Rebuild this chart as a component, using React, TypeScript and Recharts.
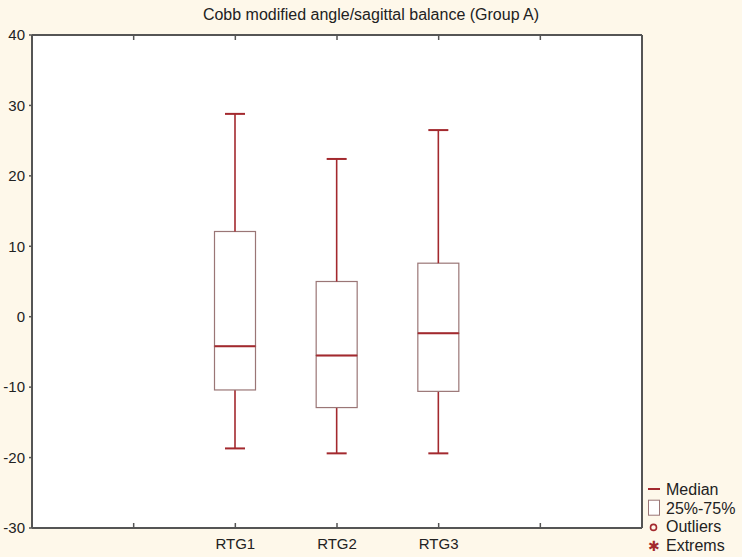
import React from "react"
import { ComposedChart, Bar, XAxis, YAxis, CartesianGrid } from "recharts"

// box plot values
const categories = ["RTG1", "RTG2", "RTG3"]
const positions = [2, 3, 4]
const whiskerMin = [-18.7, -19.4, -19.4]
const q1 = [-10.4, -12.9, -10.6]
const median = [-4.2, -5.5, -2.35]
const q3 = [12.1, 5.0, 7.6]
const whiskerMax = [28.8, 22.4, 26.5]

const yTicks = [-30, -20, -10, 0, 10, 20, 30, 40]
const xTicks = [0, 1, 2, 3, 4, 5, 6]

const legendItems = ["Median", "25%-75%", "Outliers", "Extrems"]

const FONT = "'Liberation Sans', Arial, sans-serif"
const RED = "#a3292e"
const BOX = "#9a7676"
const AXIS = "#555"

// stacked segments: invisible base, lower whisker, lower box, upper box, upper whisker
const data = categories.map((name, i) => ({
  name,
  pos: positions[i],
  base: whiskerMin[i],
  lowWhisker: q1[i] - whiskerMin[i],
  lowBox: median[i] - q1[i],
  highBox: q3[i] - median[i],
  highWhisker: whiskerMax[i] - q3[i],
}))

const CAP = 20

const Empty = () => <g />

const LowWhisker = (props: any) => {
  const { x, y, width, height } = props
  const cx = x + width / 2
  const bottom = y + height
  return (
    <g>
      <line x1={cx} x2={cx} y1={y} y2={bottom} stroke={RED} strokeWidth={1.6} />
      <line x1={cx - CAP / 2} x2={cx + CAP / 2} y1={bottom} y2={bottom} stroke={RED} strokeWidth={2} />
    </g>
  )
}

const HighWhisker = (props: any) => {
  const { x, y, width, height } = props
  const cx = x + width / 2
  return (
    <g>
      <line x1={cx} x2={cx} y1={y} y2={y + height} stroke={RED} strokeWidth={1.6} />
      <line x1={cx - CAP / 2} x2={cx + CAP / 2} y1={y} y2={y} stroke={RED} strokeWidth={2} />
    </g>
  )
}

const LowBox = (props: any) => {
  const { x, y, width, height } = props
  return <rect x={x} y={y} width={width} height={height} fill="#fff" stroke={BOX} strokeWidth={1.2} />
}

const HighBox = (props: any) => {
  const { x, y, width, height } = props
  const bottom = y + height
  return (
    <g>
      <rect x={x} y={y} width={width} height={height} fill="#fff" stroke={BOX} strokeWidth={1.2} />
      <line x1={x} x2={x + width} y1={bottom} y2={bottom} stroke={RED} strokeWidth={2} />
    </g>
  )
}

const labelFor = (v: number) => {
  const idx = positions.indexOf(v)
  return idx >= 0 ? categories[idx] : ""
}

const BottomTick = (props: any) => {
  const { x, y, payload } = props
  const label = labelFor(payload.value)
  return (
    <g>
      <line x1={x} x2={x} y1={y} y2={y - 5} stroke={AXIS} strokeWidth={1.5} />
      {label && (
        <text x={x} y={y + 21} textAnchor="middle" fontSize={15} fill="#222" fontFamily={FONT}>
          {label}
        </text>
      )}
    </g>
  )
}

const TopTick = (props: any) => {
  const { x, y } = props
  return <line x1={x} x2={x} y1={y} y2={y + 5} stroke={AXIS} strokeWidth={1.5} />
}

const RightTick = (props: any) => {
  const { x, y } = props
  return <line x1={x} x2={x - 3} y1={y} y2={y} stroke={AXIS} strokeWidth={1.5} />
}

export default function App() {
  return (
    <div style={{ position: "absolute", left: 0, top: 0, width: 742, height: 557, background: "#fef8ea", fontFamily: FONT }}>
      <div
        style={{
          position: "absolute",
          top: 6,
          left: 0,
          width: 742,
          textAlign: "center",
          fontSize: 16,
          lineHeight: "18px",
          color: "#222",
        }}
      >
        Cobb modified angle/sagittal balance (Group A)
      </div>
      <ComposedChart width={742} height={557} data={data} margin={{ top: 5, right: 0, bottom: 0, left: 0 }}>
        <rect x={32} y={35} width={610} height={493} fill="#fff" />
        <CartesianGrid vertical={false} stroke="#e4e4e4" fill="#fff" />
        <XAxis
          type="number"
          dataKey="pos"
          domain={[0, 6]}
          ticks={xTicks}
          interval={0}
          height={29}
          tickSize={0}
          tickMargin={0}
          tickLine={false}
          tick={<BottomTick />}
          axisLine={{ stroke: AXIS, strokeWidth: 2 }}
        />
        <XAxis
          xAxisId="top"
          orientation="top"
          type="number"
          dataKey="pos"
          domain={[0, 6]}
          ticks={xTicks}
          interval={0}
          height={30}
          tickSize={0}
          tickMargin={0}
          tickLine={false}
          tick={<TopTick />}
          axisLine={{ stroke: AXIS, strokeWidth: 2 }}
        />
        <YAxis
          type="number"
          domain={[-30, 40]}
          ticks={yTicks}
          interval={0}
          width={32}
          tickSize={3}
          tickMargin={4}
          allowDataOverflow
          tick={{ fontSize: 15, fill: "#222", fontFamily: FONT }}
          tickLine={{ stroke: AXIS, strokeWidth: 1.5 }}
          axisLine={{ stroke: AXIS, strokeWidth: 2 }}
        />
        <YAxis
          yAxisId="right"
          orientation="right"
          type="number"
          domain={[-30, 40]}
          ticks={yTicks}
          interval={0}
          width={100}
          tickSize={0}
          tickMargin={0}
          tickLine={false}
          tick={<RightTick />}
          axisLine={{ stroke: AXIS, strokeWidth: 2 }}
        />
        <Bar dataKey="base" stackId="box" barSize={41} shape={<Empty />} isAnimationActive={false} />
        <Bar dataKey="lowWhisker" stackId="box" barSize={41} shape={<LowWhisker />} isAnimationActive={false} />
        <Bar dataKey="lowBox" stackId="box" barSize={41} shape={<LowBox />} isAnimationActive={false} />
        <Bar dataKey="highBox" stackId="box" barSize={41} shape={<HighBox />} isAnimationActive={false} />
        <Bar dataKey="highWhisker" stackId="box" barSize={41} shape={<HighWhisker />} isAnimationActive={false} />
      </ComposedChart>
      <svg style={{ position: "absolute", left: 644, top: 475 }} width={98} height={82}>
        {legendItems.map((label, i) => {
          const cy = 14 + i * 18.7
          return (
            <g key={label}>
              {i === 0 && <line x1={4} x2={16} y1={cy} y2={cy} stroke={RED} strokeWidth={2} />}
              {i === 1 && <rect x={4.5} y={cy - 7.5} width={11} height={15} fill="#fff" stroke={BOX} strokeWidth={1} />}
              {i === 2 && <circle cx={9.5} cy={cy + 1} r={3} fill="none" stroke={RED} strokeWidth={1.6} />}
              {i === 3 && (
                <text x={9.5} y={cy + 6} textAnchor="middle" fontSize={14} fill={RED} fontFamily={FONT}>
                  ✱
                </text>
              )}
              <text x={22} y={cy + 6} fontSize={16} fill="#222" fontFamily={FONT}>
                {label}
              </text>
            </g>
          )
        })}
      </svg>
    </div>
  )
}
